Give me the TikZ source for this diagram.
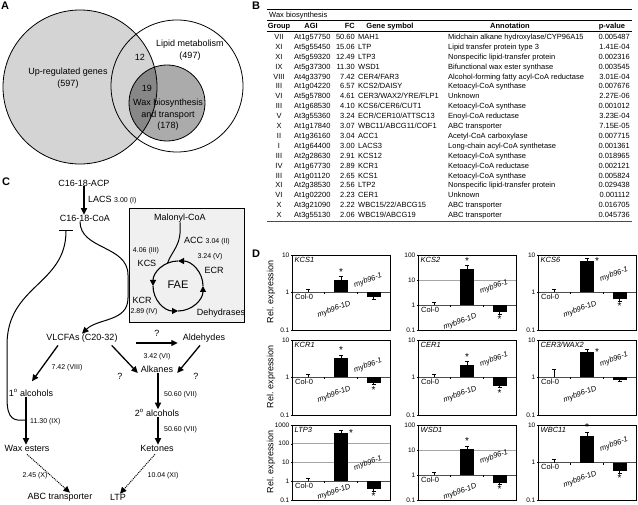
\documentclass[tikz,border=0pt]{standalone}
\usepackage{fontspec}
\setmainfont{Liberation Sans}
\usetikzlibrary{arrows.meta}
\newcommand\myfs[1]{\fontsize{#1}{#1}\selectfont}
\tikzset{
  plab/.style={font=\myfs{11}\bfseries, inner sep=0},
  vt/.style={font=\fontsize{9}{11.5}\selectfont, inner sep=0, align=center},
  ct/.style={font=\myfs{9}, inner sep=0},
  cn/.style={font=\myfs{7}, inner sep=0},
  tb/.style={font=\myfs{7.5}, inner sep=0},
  tbh/.style={font=\myfs{7.5}\bfseries, inner sep=0},
  arr/.style={line width=1.3pt, -{Triangle[length=6.5pt,width=6pt]}},
  darr/.style={line width=1pt, densely dotted, -{Triangle[length=6.5pt,width=6pt]}},
  curv/.style={line width=1pt},
  cyc/.style={line width=1.1pt, -{Triangle[length=6pt,width=6pt]}},
  vline/.style={line width=0.8pt},
  gridl/.style={gray!70, line width=0.6pt},
  basel/.style={black!70, line width=0.6pt},
  frm/.style={line width=0.8pt},
  ebar/.style={line width=0.5pt},
  ticklab/.style={font=\myfs{6.5}, inner sep=0, anchor=east},
  gname/.style={font=\myfs{7.5}\itshape, inner sep=0, anchor=north west},
  xl/.style={font=\myfs{7.5}, inner sep=0},
  xli/.style={font=\myfs{7.5}\itshape, inner sep=0, rotate=20},
  starl/.style={font=\myfs{10}, inner sep=0},
  ylab/.style={font=\myfs{9}, inner sep=0, rotate=90},
}
\newcommand\trow[7]{%
  \pgfmathsetmacro\ty{39.5+(#1-1)*9.9}%
  \node[tb,anchor=base] (tg#1) at (279,\ty) {#2};
  \node[tb,anchor=base west] (ta#1) at (294,\ty) {#3};
  \node[tb,anchor=base east] (tf#1) at (355,\ty) {#4};
  \node[tb,anchor=base west] (ts#1) at (358,\ty) {#5};
  \node[tb,anchor=base west] (tn#1) at (448,\ty) {#6};
  \node[tb,anchor=base east] (tp#1) at (630,\ty) {#7};
}
\newcommand\mlift{-14}
\newcommand\dlift{17}
\newcommand\colerr{3}
% #1 name #2 x0 #3 y0 #4 decades above 1 #5 gene #6 log 1D #7 log -1 #8 star 1D (0,1 above,2 right) #9 star -1
\newcommand\rplot[9]{%
  \pgfmathsetmacro\rpd{75/(#4+1)}%
  \pgfmathsetmacro\rpy{#3+#4*\rpd}%
  \pgfmathsetmacro\rpr{#2+98}%
  \pgfmathsetmacro\rpb{#3+75}%
  \pgfmathsetmacro\rpc{#2+98/6}%
  \pgfmathsetmacro\rpm{#2+98/2}%
  \pgfmathsetmacro\rpn{#2+5*98/6}%
  \pgfmathsetmacro\rpt{\rpy-#6*\rpd}%
  \pgfmathsetmacro\rpu{\rpy-#7*\rpd}%
  \foreach \k in {1,2,3}{\ifnum\k<#4\relax \draw[gridl] (#2,{\rpy-\k*\rpd}) -- (\rpr,{\rpy-\k*\rpd});\fi}
  \draw[basel] (#2,\rpy) -- (\rpr,\rpy);
  \draw[ebar] ({#2+98/3},\rpy) -- ({#2+98/3},{\rpy+2}) ({#2+2*98/3},\rpy) -- ({#2+2*98/3},{\rpy+2});
  \fill ({\rpm-7},\rpy) rectangle ({\rpm+7},\rpt);
  \fill ({\rpn-7},\rpy) rectangle ({\rpn+7},\rpu);
  \draw[ebar] (\rpm,\rpt) -- (\rpm,{\rpt-3}) ({\rpm-2},{\rpt-3}) -- ({\rpm+2},{\rpt-3});
  \draw[ebar] (\rpn,\rpu) -- (\rpn,{\rpu+2}) ({\rpn-2},{\rpu+2}) -- ({\rpn+2},{\rpu+2});
  \draw[ebar] (\rpc,\rpy) -- (\rpc,{\rpy-\colerr}) ({\rpc-2},{\rpy-\colerr}) -- ({\rpc+2},{\rpy-\colerr});
  \foreach \k/\t/\i in {-1/0.1/a,0/1/b,1/10/c,2/100/d,3/1000/e}{\ifnum\k>#4\relax\else
     \node[ticklab] (#1t\i) at ({#2-2.5},{\rpy-\k*\rpd}) {\t};
     \draw[ebar] (#2,{\rpy-\k*\rpd}) -- ({#2-1.5},{\rpy-\k*\rpd});\fi}
  \node[gname] (#1g) at ({#2+2.5},{#3+2}) {#5};
  \node[xl, anchor=north west] (#1c) at ({#2+3},{\rpy+1.5}) {Col-0};
  \node[xli] (#1d) at ({#2+42},{\rpy+\dlift}) {myb96-1D};
  \node[xli] (#1m) at ({#2+76},{\rpy+\mlift}) {myb96-1};
  \ifcase#8\relax \or \node[starl] (#1s) at (\rpm,{\rpt-8}) {*};\or \node[starl] (#1s) at ({\rpm+10},{\rpt}) {*};\fi
  \ifnum#9=1\relax \node[starl] (#1u) at (\rpn,{\rpu+7}) {*};\fi
  \draw[frm] (#2,#3) rectangle (\rpr,\rpb);
}
\begin{document}
\begin{tikzpicture}[x=1pt,y=-1pt]
\useasboundingbox (0,0) rectangle (638,505);
% ---------------- A
\node[plab] (Al) at (5,6) {A};
\fill[black!17] (80,87) circle[radius=77];
\fill[black!33] (167,103) circle[radius=38];
\begin{scope}\clip (80,87) circle[radius=77]; \fill[black!47] (167,103) circle[radius=38];\end{scope}
\draw[vline] (80,87) circle[radius=77];
\draw[vline] (177,86) circle[radius=66];
\draw[vline] (167,103) circle[radius=38];
\node[vt] (upt) at (68,78) {Up-regulated genes\\(597)};
\node[vt] (lipt) at (190,50) {Lipid metabolism\\(497)};
\node[vt] (n12) at (140,57) {12};
\node[vt] (n19) at (147,88) {19};
\node[vt] (waxt) at (168,115) {Wax biosynthesis\\and transport\\(178)};
% ---------------- B
\node[plab] (Bl) at (256,6) {B};
\draw[line width=0.9pt] (267,9) -- (632,9);
\node[tb,anchor=base west] (wbh) at (269,17.5) {Wax biosynthesis};
\draw[line width=0.5pt] (267,20.5) -- (632,20.5);
\node[tbh,anchor=base] (hg) at (279,28.5) {Group};
\node[tbh,anchor=base] (ha) at (311,28.5) {AGI};
\node[tbh,anchor=base east] (hf) at (355,28.5) {FC};
\node[tbh,anchor=base] (hs) at (390,28.5) {Gene symbol};
\node[tbh,anchor=base] (hn) at (510,28.5) {Annotation};
\node[tbh,anchor=base] (hp) at (612,28.5) {p-value};
\draw[line width=0.9pt] (267,31.5) -- (632,31.5);
\trow{1}{VII}{At1g57750}{50.60}{MAH1}{Midchain alkane hydroxylase/CYP96A15}{0.005487}
\trow{2}{XI}{At5g55450}{15.06}{LTP}{Lipid transfer protein type 3}{1.41E-04}
\trow{3}{XI}{At5g59320}{12.49}{LTP3}{Nonspecific lipid-transfer protein}{0.002316}
\trow{4}{IX}{At5g37300}{11.30}{WSD1}{Bifunctional wax ester synthase}{0.003545}
\trow{5}{VIII}{At4g33790}{7.42}{CER4/FAR3}{Alcohol-forming fatty acyl-CoA reductase}{3.01E-04}
\trow{6}{III}{At1g04220}{6.57}{KCS2/DAISY}{Ketoacyl-CoA synthase}{0.007676}
\trow{7}{VI}{At5g57800}{4.61}{CER3/WAX2/YRE/FLP1}{Unknown}{2.27E-06}
\trow{8}{III}{At1g68530}{4.10}{KCS6/CER6/CUT1}{Ketoacyl-CoA synthase}{0.001012}
\trow{9}{V}{At3g55360}{3.24}{ECR/CER10/ATTSC13}{Enoyl-CoA reductase}{3.23E-04}
\trow{10}{X}{At1g17840}{3.07}{WBC11/ABCG11/COF1}{ABC transporter}{7.15E-05}
\trow{11}{II}{At1g36160}{3.04}{ACC1}{Acetyl-CoA carboxylase}{0.007715}
\trow{12}{I}{At1g64400}{3.00}{LACS3}{Long-chain acyl-CoA synthetase}{0.001361}
\trow{13}{III}{At2g28630}{2.91}{KCS12}{Ketoacyl-CoA synthase}{0.018965}
\trow{14}{IV}{At1g67730}{2.89}{KCR1}{Ketoacyl-CoA reductase}{0.002121}
\trow{15}{III}{At1g01120}{2.65}{KCS1}{Ketoacyl-CoA synthase}{0.005824}
\trow{16}{XI}{At2g38530}{2.56}{LTP2}{Nonspecific lipid-transfer protein}{0.029438}
\trow{17}{VI}{At1g02200}{2.23}{CER1}{Unknown}{0.001112}
\trow{18}{X}{At3g21090}{2.22}{WBC15/22/ABCG15}{ABC transporter}{0.016705}
\trow{19}{X}{At3g55130}{2.06}{WBC19/ABCG19}{ABC transporter}{0.045736}
\draw[line width=1.2pt, black!70] (267,221.5) -- (632,221.5);
% ---------------- C
\node[plab] (Cl) at (6,182) {C};
\node[ct] (acp) at (84,183) {C16-18-ACP};
\node[ct] (coa) at (85,218) {C16-18-CoA};
\draw[arr] (acp.south) -- (acp.south |- coa.north);
\node[ct, anchor=west] (lacs) at (88,200) {LACS {\myfs{7}3.00 (I)}};
\node[draw, line width=1pt, fill=black!6, minimum width=115pt, minimum height=114pt, inner sep=0] (faeb) at (186.5,266) {};
\node[ct] (mal) at (180,218) {Malonyl-CoA};
\node[ct, anchor=west] (acc) at (184,241) {ACC {\myfs{7}3.04 (II)}};
\node[cn] (kcsv) at (146,251) {4.06 (III)};
\node[ct] (kcs) at (147,263) {KCS};
\node[cn] (ecrv) at (210,257) {3.24 (V)};
\node[ct] (ecr) at (214,270) {ECR};
\node[font=\myfs{11}, inner sep=0] (fae) at (178,285) {FAE};
\node[ct] (kcr) at (142,300) {KCR};
\node[cn] (kcrv) at (144,312) {2.89 (IV)};
\node[ct] (dehy) at (221,313) {Dehydrases};
\coordinate (cyc) at (178,286);
\draw[cyc] ([shift={(0:25)}]cyc) arc[start angle=0,end angle=-90,radius=25];
\draw[cyc] ([shift={(-90:25)}]cyc) arc[start angle=-90,end angle=-180,radius=25];
\draw[cyc] ([shift={(-180:25)}]cyc) arc[start angle=-180,end angle=-270,radius=25];
\draw[cyc] ([shift={(-270:25)}]cyc) arc[start angle=-270,end angle=-360,radius=25];
\draw[curv] (mal.south) .. controls (182,246) and (172,250) .. ([shift={(-115:25)}]cyc);
\node[ct] (vlcfa) at (82,338) {VLCFAs (C20-32)};
\node[ct] (ald) at (204,338) {Aldehydes};
\draw[curv, -{Triangle[length=6.5pt,width=6pt]}] ([xshift=-5pt]coa.south) .. controls (80,250) and (128,245) .. (128,275) -- (128,298) .. controls (128,322) and (98,318) .. (vlcfa.north);
\coordinate (tbar) at (66,231);
\coordinate (wj) at (26,420);
\draw[line width=1pt] ([xshift=-7pt]tbar) -- ([xshift=7pt]tbar);
\draw[curv] (tbar) .. controls (66,285) and (7,285) .. (7,345) -- (7,398) .. controls (7,420) and (14,421) .. (wj);
\draw[arr] ([xshift=18pt,yshift=-5pt]vlcfa.east) -- ([xshift=-5pt,yshift=-5pt]ald.west);
\node[ct] (q1) at (157,333) {?};
\node[cn] (alkv) at (157,357) {3.42 (VI)};
\node[ct] (alk) at (157,369) {Alkanes};
\draw[arr] ([xshift=-6pt,yshift=-3pt]vlcfa.south east) -- ([xshift=-3pt,yshift=-4pt]alk.west);
\node[ct] (q2) at (120,376) {?};
\draw[arr] ([xshift=-4pt,yshift=-3pt]ald.south) -- ([xshift=4pt,yshift=-4pt]alk.east);
\node[ct] (q3) at (196,376) {?};
\node[ct] (alc1) at (31,393) {1\textsuperscript{o} alcohols};
\draw[arr] ([xshift=-24pt,yshift=-3pt]vlcfa.south) -- ([xshift=1pt,yshift=8pt]alc1.north);
\node[cn] (l742) at (67,368) {7.42 (VIII)};
\node[ct] (wax) at (27,448) {Wax esters};
\draw[arr] ([xshift=-5pt]alc1.south) -- ([xshift=-5pt]alc1.south |- wax.north);
\node[cn, anchor=west] (l113) at (30,422) {11.30 (IX)};
\node[ct] (alc2) at (157,413) {2\textsuperscript{o} alcohols};
\node[ct] (ket) at (157,448) {Ketones};
\draw[arr] ([xshift=1pt]alk.south) -- ([xshift=1pt]alk.south |- alc2.north);
\node[cn, anchor=west] (l506a) at (164,395) {50.60 (VII)};
\draw[arr] ([xshift=1pt]alc2.south) -- ([xshift=1pt]alc2.south |- ket.north);
\node[cn, anchor=west] (l506b) at (164,430) {50.60 (VII)};
\node[ct] (abc) at (60,497) {ABC transporter};
\node[ct] (ltp) at (118,497) {LTP};
\draw[darr] ([yshift=-3pt]wax.south) -- ([xshift=10pt]abc.north);
\node[cn] (l245) at (35,476) {2.45 (X)};
\draw[darr] ([xshift=-2pt,yshift=-3pt]ket.south) -- ([xshift=2pt]ltp.north);
\node[cn] (l1004) at (163,476) {10.04 (XI)};
% ---------------- D
\node[plab] (Dl) at (256,254) {D};
\node[ylab] (ry1) at (271,292) {Rel. expression};
\node[ylab] (ry2) at (271,377) {Rel. expression};
\node[ylab] (ry3) at (271,462) {Rel. expression};
\renewcommand\mlift{-12}
\rplot{kcsa}{292}{255}{1}{KCS1}{0.34}{-0.125}{1}{0}
\renewcommand\mlift{-18}
\rplot{kcsb}{418}{255}{2}{KCS2}{1.45}{-0.3}{1}{1}
\rplot{kcsc}{538}{255}{1}{KCS6}{0.83}{-0.17}{2}{1}
\renewcommand\mlift{-12}
\rplot{kcr}{292}{340}{1}{KCR1}{0.52}{-0.14}{1}{1}
\renewcommand\mlift{-18}
\rplot{cera}{418}{340}{1}{CER1}{0.34}{-0.22}{1}{1}
\renewcommand\colerr{8}
\rplot{cerb}{538}{340}{1}{CER3/WAX2}{0.68}{-0.055}{2}{0}
\renewcommand\colerr{3}
\renewcommand\dlift{11}
\rplot{ltp}{292}{425}{3}{LTP3}{2.58}{-0.4}{2}{1}
\renewcommand\dlift{17}
\rplot{wsd}{418}{425}{2}{WSD1}{1.04}{-0.3}{1}{1}
\rplot{wbc}{538}{425}{1}{WBC11}{0.72}{-0.22}{1}{1}
\end{tikzpicture}
\end{document}
